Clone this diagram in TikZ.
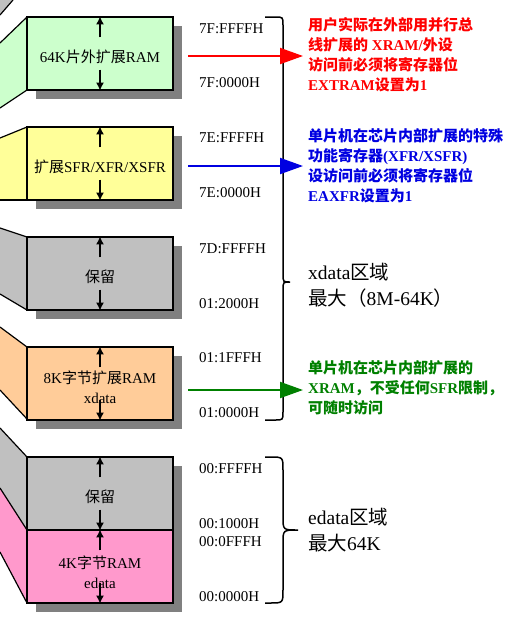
\documentclass[tikz,border=0pt]{standalone}
\usepackage{fontspec}
\setmainfont{Liberation Serif}
\newfontfamily\cjk{Noto Sans CJK SC}
\usetikzlibrary{arrows.meta,calc,shadows}
\definecolor{cgreen}{RGB}{204,255,204}
\definecolor{cyellow}{RGB}{255,255,153}
\definecolor{cgray}{RGB}{192,192,192}
\definecolor{corange}{RGB}{255,204,153}
\definecolor{cpink}{RGB}{255,153,204}
\definecolor{cshadow}{RGB}{128,128,128}
\definecolor{cred}{RGB}{255,0,0}
\definecolor{cblue}{RGB}{0,0,225}
\definecolor{cgreent}{RGB}{0,128,0}
\newcommand\zh[1]{{\cjk #1}}
\tikzset{
  membox/.style={draw=black, line width=1.2pt, minimum width=146pt, minimum height=73pt, inner sep=0pt,
    drop shadow={shadow xshift=9pt, shadow yshift=-9pt, fill=cshadow, opacity=1}},
  boxtext/.style={align=center, inner sep=0pt, font=\fontsize{15}{20}\selectfont},
  addr/.style={anchor=west, inner sep=0pt, font=\fontsize{15}{18}\selectfont},
  note/.style={anchor=west, align=left, inner sep=0pt, font=\bfseries\fontsize{15}{20}\selectfont},
  big/.style={anchor=west, align=left, inner sep=0pt, font=\fontsize{19.5}{26}\selectfont},
  vin/.style={line width=1.5pt, -{Latex[length=8pt,width=8pt]}},
  carrow/.style={line width=2pt, -{Triangle[length=23pt,width=16pt]}, shorten >=5pt},
  edge/.style={draw=black, line width=1.2pt},
  bracel/.style={draw=black, line width=1.5pt}
}
\begin{document}
\begin{tikzpicture}[x=1pt,y=-1pt]
\useasboundingbox (0,0) rectangle (518,625);
% side panels
\fill[cgray] (0,0) -- (13,0) -- (0,15) -- cycle;
\draw[edge] (13,0) -- (0,15);
\fill[cgreen] (27,17) -- (0,43) -- (0,108) -- (27,90) -- cycle;
\draw[edge] (27,17) -- (0,43); \draw[edge] (27,90) -- (0,108);
\fill[cyellow] (27,127) -- (0,138) -- (0,200) -- (27,200) -- cycle;
\draw[edge] (27,127) -- (0,138); \draw[edge] (27,200) -- (0,200);
\fill[cgray] (27,237) -- (0,228) -- (0,294) -- (27,310) -- cycle;
\draw[edge] (27,237) -- (0,228); \draw[edge] (27,310) -- (0,294);
\fill[corange] (27,347) -- (0,327) -- (0,390) -- (27,419) -- cycle;
\draw[edge] (27,347) -- (0,327); \draw[edge] (27,419) -- (0,390);
\fill[cgray] (27,457) -- (0,428) -- (0,488) -- (27,530) -- cycle;
\fill[cpink] (27,530) -- (0,488) -- (0,552) -- (27,603) -- cycle;
\draw[edge] (27,457) -- (0,428); \draw[edge] (27,530) -- (0,488); \draw[edge] (27,603) -- (0,552);
% boxes
\node[membox, fill=cgreen] (b1) at (100,53.5) {};
\node[membox, fill=cyellow] (b2) at (100,163.5) {};
\node[membox, fill=cgray] (b3) at (100,273.5) {};
\node[membox, fill=corange] (b4) at (100,383.5) {};
\node[membox, fill=cgray] (b5) at (100,493.5) {};
\node[membox, fill=cpink] (b6) at (100,566.5) {};
% box arrows
\foreach \b in {b1,b2,b3,b4,b5,b6}{
  \draw[vin] ($(\b.north)+(0,21)$) -- (\b.north);
  \draw[vin] ($(\b.south)+(0,-21)$) -- (\b.south);
}
% box texts
\node[boxtext] (t1) at (100,57) {64K\zh{片外扩展}RAM};
\node[boxtext] (t2) at (100,167) {\zh{扩展}SFR/XFR/XSFR};
\node[boxtext] (t3) at (100,277) {\zh{保留}};
\node[boxtext] (t4) at (100,387) {8K\zh{字节扩展}RAM\\xdata};
\node[boxtext] (t5) at (100,497) {\zh{保留}};
\node[boxtext] (t6) at (100,572) {4K\zh{字节}RAM\\edata};
% addresses
\node[addr] (a1) at (199,29) {7F:FFFFH};
\node[addr] (a2) at (199,83) {7F:0000H};
\node[addr] (a3) at (199,138) {7E:FFFFH};
\node[addr] (a4) at (199,193) {7E:0000H};
\node[addr] (a5) at (199,249) {7D:FFFFH};
\node[addr] (a6) at (199,304) {01:2000H};
\node[addr] (a7) at (199,358) {01:1FFFH};
\node[addr] (a8) at (199,413) {01:0000H};
\node[addr] (a9) at (199,469) {00:FFFFH};
\node[addr] (a10) at (199,524) {00:1000H};
\node[addr] (a11) at (199,542) {00:0FFFH};
\node[addr] (a12) at (199,597) {00:0000H};
% braces
\draw[bracel] (265,17) -- (275,17) .. controls (283,17) .. (283,25) -- (283,274)
  .. controls (283,282) .. (290,282) .. controls (283,282) .. (283,290) -- (283,412)
  .. controls (283,420) .. (275,420) -- (265,420);
\draw[bracel] (265,457) -- (270,457) .. controls (283,457) .. (283,470) -- (283,517)
  .. controls (283,530) .. (298,530) .. controls (283,530) .. (283,543) -- (283,590)
  .. controls (283,603) .. (270,603) -- (265,603);
% notes
\node[note, text=cred] (rt) at (308,55) {\zh{用户实际在外部用并行总}\\\zh{线扩展的} XRAM/\zh{外设}\\\zh{访问前必须将寄存器位}\\EXTRAM\zh{设置为}1};
\node[note, text=cblue] (bt) at (308,166) {\zh{单片机在芯片内部扩展的特殊}\\\zh{功能寄存器}(XFR/XSFR)\\\zh{设访问前必须将寄存器位}\\EAXFR\zh{设置为}1};
\node[note, text=cgreent] (gt) at (308,388) {\zh{单片机在芯片内部扩展的}\\XRAM\zh{，不受任何}SFR\zh{限制，}\\\zh{可随时访问}};
\node[big] (xd) at (308,285) {xdata\zh{区域}\\\zh{最大（}8M-64K\zh{）}};
\node[big] (ed) at (308,530) {edata\zh{区域}\\\zh{最大}64K};
% coloured arrows
\coordinate (ra) at (188,56);
\coordinate (ba) at (188,166);
\coordinate (ga) at (188,390);
\draw[carrow, cred] (ra) -- (ra -| rt.west);
\draw[carrow, cblue] (ba) -- (ba -| bt.west);
\draw[carrow, cgreent] (ga) -- (ga -| gt.west);
\end{tikzpicture}
\end{document}
